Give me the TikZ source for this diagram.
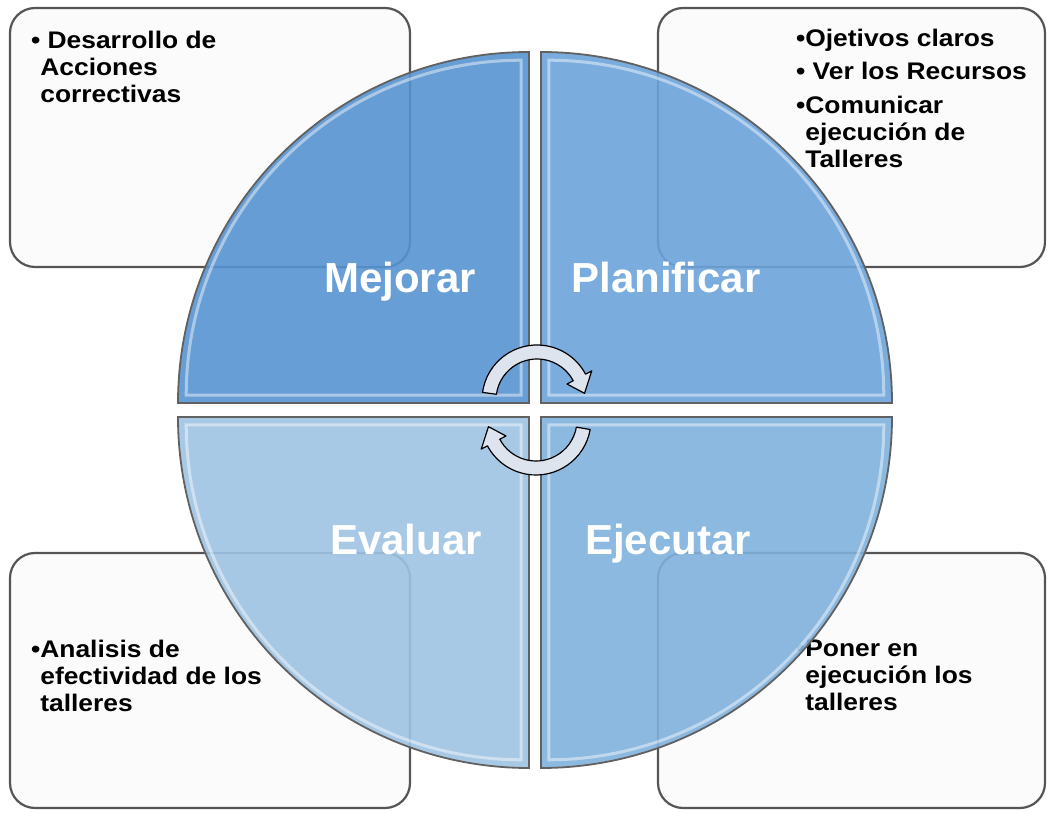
\documentclass[tikz,border=0pt]{standalone}
\usepackage{fontspec}
\setmainfont{Liberation Sans}
\newfontfamily\boxfont[FakeStretch=1.1]{Liberation Sans}
\usetikzlibrary{positioning}

\definecolor{mejoraBlue}{RGB}{86,147,208}
\definecolor{planBlue}{RGB}{107,163,218}
\definecolor{evalBlue}{RGB}{158,195,227}
\definecolor{ejecBlue}{RGB}{128,177,220}
\definecolor{boxLine}{RGB}{85,85,85}
\definecolor{arrowFill}{RGB}{221,228,238}

\newcommand{\bulletpad}{\phantom{\textbullet}}

\begin{document}
\begin{tikzpicture}[x=1pt, y=1pt]
    \tikzset{infobox/.style={draw=boxLine, line width=2.2pt, fill=black!1.5, rounded corners=25pt, inner sep=0pt},
             boxtext/.style={anchor=north west, inner sep=0pt, align=left, font=\boxfont\fontsize{24}{27}\selectfont\bfseries},
             quarter/.style={draw=black!62, line width=1.8pt, fill opacity=0.9},
             shine/.style={draw=white, line width=3pt, opacity=0.45},
             cyclearrow/.style={draw=black, line width=1.2pt, fill=arrowFill, line join=round},
             phaselabel/.style={anchor=base, text=white, font=\fontsize{42}{42}\selectfont\bfseries}}
    \useasboundingbox (0,0) rectangle (1047,812);

    % cajas de texto
    \node[infobox, minimum width=400pt, minimum height=259pt] (mejoraBox) at (210,674.5) {};
    \node[infobox, minimum width=387pt, minimum height=259pt] (planBox) at (851.5,674.5) {};
    \node[infobox, minimum width=400pt, minimum height=255pt] (evalBox) at (210,131.5) {};
    \node[infobox, minimum width=387pt, minimum height=255pt] (ejecBox) at (851.5,131.5) {};

    \node[boxtext] (mejoraText) at ([xshift=22pt, yshift=-24pt]mejoraBox.north west)
        {\textbullet\ Desarrollo de\\\bulletpad Acciones\\\bulletpad correctivas};
    \node[boxtext] (planText) at ([xshift=139pt, yshift=-22pt]planBox.north west)
        {\textbullet Ojetivos claros\\[6.5pt]\textbullet\ Ver los Recursos\\[6.5pt]\textbullet Comunicar\\\bulletpad ejecución de\\\bulletpad Talleres};
    \node[boxtext] (evalText) at ([xshift=22pt, yshift=-88pt]evalBox.north west)
        {\textbullet Analisis de\\\bulletpad efectividad de los\\\bulletpad talleres};
    \node[boxtext] (ejecText) at ([xshift=139pt, yshift=-88pt]ejecBox.north west)
        {\textbullet Poner en\\\bulletpad ejecución los\\\bulletpad talleres};

    % circulo en cuatro cuadrantes
    \foreach \cx/\cy/\a/\col in {529/409/90/mejoraBlue, 541/409/0/planBlue, 529/395/180/evalBlue, 541/395/270/ejecBlue} {
        \draw[quarter, fill=\col] (\cx,\cy) -- ++(\a:351) arc[start angle=\a, end angle=\a+90, radius=351] -- cycle;
        \draw[shine] ([shift={({\a+45}:11)}]\cx,\cy) -- ++(\a:335) arc[start angle=\a, end angle=\a+90, radius=335] -- cycle;
    }

    % flechas del ciclo
    \begin{scope}[shift={(537,412)}]
        \draw[cyclearrow] (172:55) arc[start angle=172, end angle=28, radius=55] -- (28:62) -- (8:48) -- (28:34) -- (28:41) arc[start angle=28, end angle=172, radius=41] -- cycle;
    \end{scope}
    \begin{scope}[shift={(536,392)}]
        \draw[cyclearrow] (350:55) arc[start angle=350, end angle=208, radius=55] -- (208:62) -- (188:48) -- (208:34) -- (208:41) arc[start angle=208, end angle=350, radius=41] -- cycle;
    \end{scope}

    \node[phaselabel] (mejorar) at (400,519) {Mejorar};
    \node[phaselabel] (planificar) at (666,519) {Planificar};
    \node[phaselabel] (evaluar) at (406,257) {Evaluar};
    \node[phaselabel] (ejecutar) at (668,257) {Ejecutar};
\end{tikzpicture}
\end{document}
